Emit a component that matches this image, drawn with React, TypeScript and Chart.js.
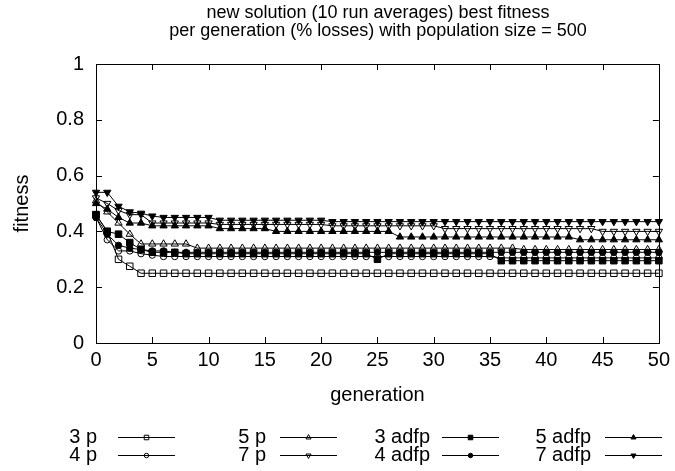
import React, { useEffect, useRef } from 'react';
import { Chart, registerables } from 'chart.js';

Chart.register(...registerables);

const generations = [
  0, 1, 2, 3, 4, 5, 6, 7, 8, 9,
  10, 11, 12, 13, 14, 15, 16, 17, 18, 19,
  20, 21, 22, 23, 24, 25, 26, 27, 28, 29,
  30, 31, 32, 33, 34, 35, 36, 37, 38, 39,
  40, 41, 42, 43, 44, 45, 46, 47, 48, 49,
  50,
];

const threeP = [
  0.46, 0.40, 0.30, 0.275, 0.25, 0.25, 0.25, 0.25, 0.25, 0.25,
  0.25, 0.25, 0.25, 0.25, 0.25, 0.25, 0.25, 0.25, 0.25, 0.25,
  0.25, 0.25, 0.25, 0.25, 0.25, 0.25, 0.25, 0.25, 0.25, 0.25,
  0.25, 0.25, 0.25, 0.25, 0.25, 0.25, 0.25, 0.25, 0.25, 0.25,
  0.25, 0.25, 0.25, 0.25, 0.25, 0.25, 0.25, 0.25, 0.25, 0.25,
  0.25,
];

const fourP = [
  0.45, 0.37, 0.33, 0.33, 0.32, 0.315, 0.31, 0.31, 0.31, 0.31,
  0.31, 0.31, 0.31, 0.31, 0.31, 0.31, 0.31, 0.31, 0.31, 0.31,
  0.31, 0.31, 0.31, 0.31, 0.31, 0.31, 0.31, 0.31, 0.31, 0.31,
  0.31, 0.31, 0.31, 0.31, 0.31, 0.31, 0.305, 0.305, 0.305, 0.305,
  0.305, 0.305, 0.305, 0.305, 0.305, 0.305, 0.305, 0.305, 0.305, 0.305,
  0.305,
];

const fiveP = [
  0.51, 0.47, 0.43, 0.39, 0.355, 0.355, 0.355, 0.355, 0.355, 0.34,
  0.34, 0.34, 0.34, 0.34, 0.34, 0.34, 0.34, 0.34, 0.34, 0.34,
  0.34, 0.34, 0.34, 0.34, 0.34, 0.34, 0.34, 0.34, 0.34, 0.34,
  0.34, 0.34, 0.34, 0.34, 0.34, 0.34, 0.34, 0.34, 0.335, 0.335,
  0.335, 0.335, 0.335, 0.335, 0.335, 0.335, 0.335, 0.335, 0.335, 0.335,
  0.335,
];

const sevenP = [
  0.52, 0.50, 0.475, 0.46, 0.46, 0.43, 0.43, 0.43, 0.43, 0.43,
  0.43, 0.425, 0.425, 0.425, 0.425, 0.425, 0.425, 0.425, 0.425, 0.425,
  0.425, 0.42, 0.42, 0.42, 0.42, 0.42, 0.42, 0.42, 0.42, 0.42,
  0.42, 0.41, 0.41, 0.41, 0.41, 0.41, 0.41, 0.41, 0.41, 0.41,
  0.41, 0.41, 0.41, 0.41, 0.41, 0.40, 0.40, 0.40, 0.40, 0.40,
  0.40,
];

const threeAdfp = [
  0.46, 0.40, 0.39, 0.36, 0.335, 0.325, 0.325, 0.325, 0.32, 0.32,
  0.32, 0.32, 0.32, 0.32, 0.32, 0.32, 0.32, 0.32, 0.32, 0.32,
  0.32, 0.32, 0.32, 0.32, 0.32, 0.30, 0.32, 0.32, 0.32, 0.32,
  0.32, 0.32, 0.32, 0.32, 0.32, 0.32, 0.295, 0.295, 0.295, 0.295,
  0.295, 0.295, 0.295, 0.295, 0.295, 0.295, 0.295, 0.295, 0.295, 0.295,
  0.295,
];

const fourAdfp = [
  0.45, 0.39, 0.35, 0.34, 0.335, 0.33, 0.33, 0.325, 0.325, 0.325,
  0.325, 0.325, 0.325, 0.325, 0.325, 0.325, 0.325, 0.325, 0.325, 0.325,
  0.325, 0.325, 0.325, 0.325, 0.325, 0.325, 0.325, 0.325, 0.325, 0.325,
  0.325, 0.325, 0.325, 0.325, 0.325, 0.325, 0.325, 0.325, 0.325, 0.325,
  0.325, 0.325, 0.325, 0.325, 0.325, 0.325, 0.325, 0.325, 0.325, 0.325,
  0.325,
];

const fiveAdfp = [
  0.50, 0.48, 0.45, 0.43, 0.43, 0.42, 0.42, 0.42, 0.42, 0.42,
  0.42, 0.41, 0.41, 0.41, 0.41, 0.41, 0.40, 0.40, 0.40, 0.40,
  0.40, 0.40, 0.40, 0.40, 0.40, 0.40, 0.40, 0.38, 0.38, 0.38,
  0.38, 0.38, 0.38, 0.38, 0.38, 0.38, 0.38, 0.38, 0.38, 0.38,
  0.38, 0.38, 0.38, 0.37, 0.37, 0.37, 0.37, 0.37, 0.37, 0.37,
  0.37,
];

const sevenAdfp = [
  0.54, 0.54, 0.49, 0.47, 0.465, 0.455, 0.45, 0.45, 0.45, 0.45,
  0.45, 0.44, 0.44, 0.44, 0.44, 0.44, 0.44, 0.44, 0.44, 0.44,
  0.44, 0.435, 0.435, 0.435, 0.435, 0.435, 0.435, 0.435, 0.435, 0.435,
  0.435, 0.435, 0.435, 0.435, 0.435, 0.435, 0.435, 0.435, 0.435, 0.435,
  0.435, 0.435, 0.435, 0.435, 0.435, 0.435, 0.435, 0.435, 0.435, 0.435,
  0.435,
];

const seriesLabels = ['3 p', '4 p', '5 p', '7 p', '3 adfp', '4 adfp', '5 adfp', '7 adfp'];
const seriesValues = [threeP, fourP, fiveP, sevenP, threeAdfp, fourAdfp, fiveAdfp, sevenAdfp];

const yTickLabels = ['0', '0.2', '0.4', '0.6', '0.8', '1'];

const titleLines = [
  'new solution (10 run averages) best fitness',
  'per generation (% losses) with population size = 500',
];
const xAxisTitle = 'generation';
const yAxisTitle = 'fitness';

const FONT = '"Liberation Sans", Arial, Helvetica, sans-serif';
const AXIS_FONT_SIZE = 20;

type Marker = { style: 'rect' | 'circle' | 'triangle'; filled: boolean; down: boolean };
const markers: Marker[] = [
  { style: 'rect', filled: false, down: false },
  { style: 'circle', filled: false, down: false },
  { style: 'triangle', filled: false, down: false },
  { style: 'triangle', filled: false, down: true },
  { style: 'rect', filled: true, down: false },
  { style: 'circle', filled: true, down: false },
  { style: 'triangle', filled: true, down: false },
  { style: 'triangle', filled: true, down: true },
];

function markerRadius(m: Marker) {
  if (m.style === 'rect') return 4.6;
  if (m.style === 'circle') return 3.2;
  return 4.2;
}

function drawMarker(ctx: CanvasRenderingContext2D, m: Marker, x: number, y: number, r: number) {
  ctx.beginPath();
  if (m.style === 'rect') {
    const s = r * Math.SQRT1_2;
    ctx.rect(x - s, y - s, 2 * s, 2 * s);
  } else if (m.style === 'circle') {
    ctx.arc(x, y, r, 0, Math.PI * 2);
  } else {
    const dir = m.down ? -1 : 1;
    ctx.moveTo(x, y - dir * r);
    ctx.lineTo(x + r * 0.866, y + dir * r * 0.5);
    ctx.lineTo(x - r * 0.866, y + dir * r * 0.5);
    ctx.closePath();
  }
  if (m.filled) {
    ctx.fillStyle = '#000';
    ctx.fill();
  }
  ctx.strokeStyle = '#000';
  ctx.lineWidth = 1;
  ctx.stroke();
}

const framePlugin = {
  id: 'gnuplotFrame',
  beforeDatasetsDraw(chart: any) {
    const { ctx, chartArea, scales } = chart;
    const { left, right, top, bottom } = chartArea;
    ctx.save();
    ctx.strokeStyle = '#000';
    ctx.lineWidth = 1;
    const tl = 6;
    ctx.beginPath();
    for (const v of scales.y.ticks.map((t: any) => t.value)) {
      const py = Math.round(scales.y.getPixelForValue(v)) + 0.5;
      ctx.moveTo(left, py);
      ctx.lineTo(left + tl, py);
      ctx.moveTo(right, py);
      ctx.lineTo(right - tl, py);
    }
    for (const v of scales.x.ticks.map((t: any) => t.value)) {
      const px = Math.round(scales.x.getPixelForValue(v)) + 0.5;
      ctx.moveTo(px, bottom);
      ctx.lineTo(px, bottom - tl);
      ctx.moveTo(px, top);
      ctx.lineTo(px, top + tl);
    }
    ctx.stroke();
    ctx.strokeRect(Math.round(left) + 0.5, Math.round(top) + 0.5, Math.round(right - left), Math.round(bottom - top));
    ctx.restore();
  },
  afterDraw(chart: any) {
    const { ctx, chartArea } = chart;
    const { left, right, top, bottom } = chartArea;
    ctx.save();
    ctx.fillStyle = '#000';
    ctx.font = `18px ${FONT}`;
    ctx.textAlign = 'center';
    ctx.textBaseline = 'middle';
    const tx = 378;
    ctx.fillText(titleLines[0], tx, 13);
    ctx.fillText(titleLines[1], tx, 31);
    ctx.font = `${AXIS_FONT_SIZE}px ${FONT}`;
    ctx.fillText(xAxisTitle, (left + right) / 2, 395);
    ctx.save();
    ctx.translate(22, (top + bottom) / 2);
    ctx.rotate(-Math.PI / 2);
    ctx.fillText(yAxisTitle, 0, 0);
    ctx.restore();
    const textRight = [97, 266, 430, 591];
    const lineStart = [118, 280, 442, 605];
    const rowY = [437, 455];
    ctx.font = `${AXIS_FONT_SIZE}px ${FONT}`;
    ctx.textAlign = 'right';
    for (let i = 0; i < seriesLabels.length; i++) {
      const col = Math.floor(i / 2);
      const row = i % 2;
      const y = rowY[row];
      ctx.fillText(seriesLabels[i], textRight[col], y);
      ctx.beginPath();
      ctx.strokeStyle = '#000';
      ctx.lineWidth = 1;
      ctx.moveTo(lineStart[col], Math.round(y) + 0.5);
      ctx.lineTo(lineStart[col] + 57, Math.round(y) + 0.5);
      ctx.stroke();
      const m = markers[i];
      drawMarker(ctx, m, lineStart[col] + 28.5, Math.round(y) + 0.5, markerRadius(m) * 0.7);
    }
    ctx.restore();
  },
};

export default function App() {
  const canvasRef = useRef<HTMLCanvasElement | null>(null);

  useEffect(() => {
    document.body.style.margin = '0';
    const canvas = canvasRef.current;
    if (!canvas) return;
    const datasets = seriesValues.map((vals, i) => {
      const m = markers[i];
      return {
        label: seriesLabels[i],
        data: vals.map((v, j) => ({ x: generations[j], y: v })),
        borderColor: '#000',
        borderWidth: 1,
        backgroundColor: m.filled ? '#000' : 'rgba(0,0,0,0)',
        pointStyle: m.style,
        pointRotation: m.down ? 180 : 0,
        pointRadius: markerRadius(m),
        pointBorderWidth: 1,
        pointBorderColor: '#000',
        pointBackgroundColor: m.filled ? '#000' : 'rgba(0,0,0,0)',
        fill: false,
        tension: 0,
        order: seriesLabels.length - i,
      };
    });
    const chart = new Chart(canvas, {
      type: 'line',
      data: { datasets },
      options: {
        animation: false,
        responsive: false,
        devicePixelRatio: 1,
        clip: false as any,
        layout: { padding: { top: 64, right: 13, bottom: 0, left: 0 } },
        plugins: {
          legend: { display: false },
          title: { display: false },
          tooltip: { enabled: false },
        },
        scales: {
          x: {
            type: 'linear',
            min: 0,
            max: 50,
            grid: { display: false, drawTicks: false },
            border: { display: false },
            ticks: {
              stepSize: 5,
              padding: 5,
              color: '#000',
              font: { family: FONT, size: AXIS_FONT_SIZE },
              maxRotation: 0,
            },
            afterFit: (scale: any) => {
              scale.height = 128;
            },
          },
          y: {
            type: 'linear',
            min: 0,
            max: 1,
            grid: { display: false, drawTicks: false },
            border: { display: false },
            ticks: {
              stepSize: 0.2,
              padding: 12,
              color: '#000',
              font: { family: FONT, size: AXIS_FONT_SIZE },
              callback: (_v: any, idx: number) => yTickLabels[idx],
            },
            afterFit: (scale: any) => {
              scale.width = 96;
            },
          },
        },
      },
      plugins: [framePlugin],
    });
    return () => chart.destroy();
  }, []);

  return (
    <div style={{ width: 675, height: 471, background: '#fff' }}>
      <canvas ref={canvasRef} width={675} height={471} style={{ display: 'block' }} />
    </div>
  );
}
